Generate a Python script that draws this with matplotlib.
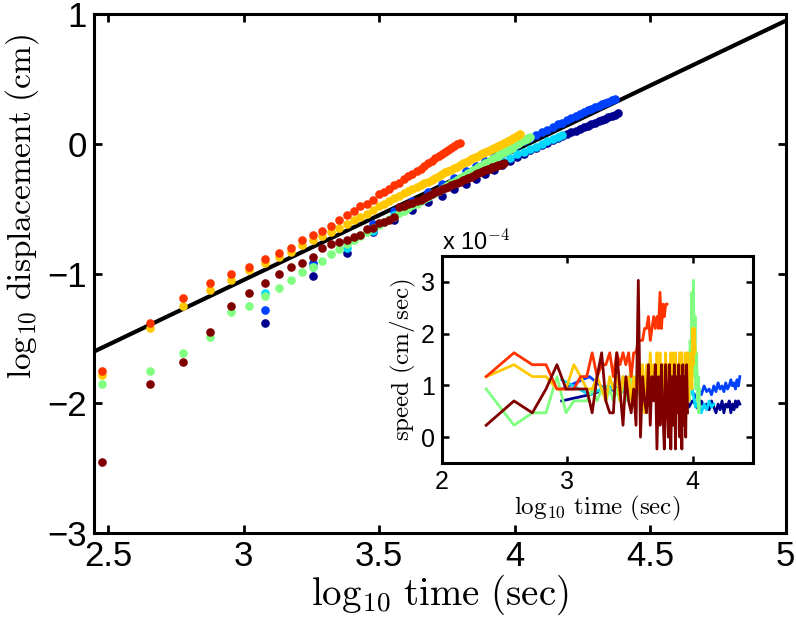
import numpy as np
import matplotlib
matplotlib.use("Agg")
import matplotlib.pyplot as plt

plt.rcParams['font.family'] = ['Liberation Sans', 'DejaVu Sans']
plt.rcParams['mathtext.fontset'] = 'cm'

# ---------------- data ----------------
# sampling intervals (s) and first sample index of the tracked particles
dt_fast = 150.0
dt_slow = 600.0
first_index = 2

colors = {
    'navy': '#00008F', 'blue': '#0040FF', 'cyan': '#00D8FF',
    'green': '#80FF80', 'yellow': '#FFC800', 'red': '#FF3300', 'darkred': '#800000',
}

# log10 displacement (cm), main panel
disp_red = [-1.75, -1.38, -1.19, -1.07, -1.00, -0.95, -0.89, -0.84, -0.80, -0.74,
            -0.70, -0.67, -0.63, -0.59, -0.55, -0.52, -0.48, -0.46, -0.43, -0.39,
            -0.37, -0.35, -0.32, -0.30, -0.27, -0.25, -0.23, -0.21, -0.19, -0.17,
            -0.15, -0.13, -0.11, -0.095, -0.08, -0.06, -0.045, -0.03, -0.015, 0.00, 0.01]
disp_yellow = [-1.78, -1.42, -1.25, -1.13, -1.05, -0.97, -0.92, -0.87, -0.83, -0.78,
               -0.74, -0.71, -0.68, -0.65, -0.62, -0.59, -0.565, -0.54, -0.51, -0.48,
               -0.46, -0.44, -0.42, -0.40, -0.38, -0.365, -0.35, -0.335, -0.32, -0.305,
               -0.29, -0.275, -0.26, -0.25, -0.235, -0.22, -0.21, -0.20, -0.185, -0.175,
               -0.16, -0.15, -0.14, -0.13, -0.12, -0.11, -0.10, -0.09, -0.08, -0.07,
               -0.065, -0.055, -0.045, -0.04, -0.03, -0.02, -0.015, -0.005, 0.0, 0.01,
               0.015, 0.025, 0.03, 0.04, 0.045, 0.055, 0.06, 0.07, 0.08]
disp_green = [-1.85, -1.75, -1.61, -1.49, -1.30, -1.25, -1.17, -1.11, -1.05, -0.99,
              -0.95, -0.90, -0.85, -0.81, -0.77, -0.74, -0.71, -0.68, -0.65, -0.625,
              -0.60, -0.58, -0.56, -0.535, -0.515, -0.495, -0.475, -0.46, -0.44, -0.425,
              -0.41, -0.39, -0.375, -0.36, -0.345, -0.33, -0.315, -0.30, -0.29, -0.275,
              -0.265, -0.25, -0.24, -0.225, -0.215, -0.205, -0.19, -0.18, -0.17, -0.16,
              -0.15, -0.14, -0.13, -0.12, -0.11, -0.10, -0.09, -0.08, -0.07, -0.065,
              -0.055, -0.045, -0.04, -0.03, -0.02, -0.01, 0.0, 0.01, 0.015, 0.02,
              0.03, 0.035, 0.04, 0.045, 0.05]
disp_darkred = [-2.45, -1.85, -1.68, -1.45, -1.25, -1.15, -1.07, -1.00, -0.95, -0.92,
                -0.87, -0.80, -0.77, -0.76, -0.74, -0.72, -0.70, -0.66, -0.65, -0.61,
                -0.60, -0.585, -0.56, -0.49, -0.48, -0.465, -0.455, -0.44, -0.43, -0.415,
                -0.40, -0.39, -0.37, -0.36, -0.35, -0.34, -0.33, -0.32, -0.31, -0.30,
                -0.29, -0.28, -0.27, -0.265, -0.255, -0.245, -0.235, -0.225, -0.22, -0.21,
                -0.20, -0.195, -0.19, -0.18, -0.175, -0.17, -0.165, -0.16, -0.155, -0.15]
disp_navy = [-1.38, -1.02, -0.84, -0.68, -0.59, -0.51, -0.45, -0.40, -0.35, -0.31,
             -0.27, -0.235, -0.20, -0.165, -0.13, -0.10, -0.075, -0.05, -0.03, -0.01,
             0.01, 0.03, 0.045, 0.06, 0.075, 0.09, 0.10, 0.115, 0.13, 0.14,
             0.15, 0.165, 0.175, 0.185, 0.195, 0.205, 0.215, 0.225, 0.235]
disp_blue = [-1.28, -0.92, -0.76, -0.62, -0.52, -0.44, -0.37, -0.31, -0.26, -0.21,
             -0.17, -0.13, -0.095, -0.06, -0.03, -0.005, 0.02, 0.045, 0.07, 0.09,
             0.11, 0.13, 0.15, 0.165, 0.185, 0.20, 0.215, 0.23, 0.245, 0.26,
             0.27, 0.285, 0.295, 0.305, 0.315, 0.325, 0.335, 0.345]
disp_cyan = [-1.15, -0.95, -0.80, -0.67, -0.55, -0.47, -0.41, -0.35, -0.30, -0.26,
             -0.22, -0.18, -0.15, -0.13, -0.105, -0.08, -0.06, -0.04, -0.02, 0.0,
             0.02, 0.035, 0.05, 0.07]

# reference power-law line (log-log)
fit_slope = 1.0
fit_intercept = -4.05
fit_range = [2.448, 5.0]

# speeds (x 1e-4 cm/sec), inset, at mid-interval times
speed_red = [1.17, 1.63, 1.40, 1.40, 0.93, 0.93, 0.93, 1.17, 1.17, 1.63,
             1.17, 1.40, 1.40, 1.63, 1.17, 1.63, 1.40, 1.63, 1.40, 1.63,
             1.17, 1.63, 1.63, 1.87, 1.87, 1.87, 2.10, 2.10, 2.33, 1.87,
             2.10, 2.33, 2.10, 2.33, 2.10, 2.80, 2.10, 2.57, 2.33, 2.57, 2.57]
speed_yellow = [1.17, 1.40, 1.17, 1.17, 0.93, 0.93, 1.40, 1.17, 0.93, 0.93,
                1.17, 0.93, 0.70, 1.17, 0.93, 1.17, 0.70, 1.17, 0.93, 1.17,
                0.70, 1.17, 0.93, 1.17, 0.70, 1.40, 0.47, 1.40, 0.70, 1.63,
                0.93, 1.40, 0.70, 1.63, 0.93, 1.63, 0.70, 1.40, 0.93, 1.63,
                0.70, 1.40, 1.17, 1.63, 0.70, 1.63, 0.93, 1.63, 0.70, 1.40,
                0.93, 1.63, 0.70, 1.63, 0.93, 1.40, 0.70, 1.63, 1.17, 1.63,
                0.70, 1.40, 1.17, 1.63, 0.93, 2.10, 1.40, 2.10, 1.63]
speed_green = [0.93, 0.23, 0.47, 0.47, 1.17, 0.47, 0.70, 0.70, 0.70, 0.93,
               0.70, 0.93, 0.70, 0.93, 0.70, 0.93, 0.70, 1.17, 0.70, 0.93,
               1.40, 0.70, 1.17, 0.93, 1.40, 0.70, 1.17, 0.93, 1.40, 0.70,
               1.17, 0.93, 1.40, 0.70, 1.17, 0.93, 1.40, 0.70, 1.17, 0.93,
               1.40, 0.70, 1.17, 0.93, 1.40, 0.70, 1.17, 0.93, 1.40, 0.70,
               1.17, 0.93, 1.40, 0.70, 1.17, 0.93, 1.40, 0.70, 1.40, 0.93,
               1.63, 0.70, 1.87, 0.93, 2.80, 1.17, 3.03, 1.40, 2.33, 0.93,
               1.63, 0.70, 1.17, 0.47, 0.93]
speed_darkred = [0.23, 0.70, 0.47, 0.93, 1.40, 0.93, 0.93, 0.93, 0.93, 0.47,
                 1.17, 1.63, 0.70, 0.47, 0.47, 1.63, 0.93, 0.23, 1.17, 0.70,
                 0.47, 0.93, 0.23, 3.03, 0.00, 1.17, 0.70, 0.47, 1.40, 0.23,
                 1.17, 0.70, 1.40, -0.23, 1.17, 0.23, 1.40, 0.47, -0.23, 1.40,
                 0.70, 0.00, 1.40, -0.23, 1.17, 0.23, 1.40, -0.23, 1.17, 0.47,
                 1.40, 0.00, 1.17, -0.23, 1.40, 0.23, 1.17, 0.00, 1.40, 0.47]
speed_navy = [0.70, 0.82, 0.93, 0.88, 0.93, 0.99, 0.82, 0.93, 0.76, 0.88,
              0.70, 0.82, 0.64, 0.76, 0.58, 0.70, 0.64, 0.53, 0.70, 0.58,
              0.64, 0.53, 0.70, 0.58, 0.47, 0.64, 0.53, 0.70, 0.47, 0.64,
              0.58, 0.70, 0.47, 0.64, 0.53, 0.70, 0.58, 0.70, 0.64]
speed_blue = [0.93, 1.17, 0.88, 0.99, 0.93, 0.82, 0.99, 0.88, 0.93, 0.82,
              0.99, 0.88, 0.93, 0.99, 0.82, 0.88, 0.76, 0.93, 0.82, 0.99,
              0.88, 0.93, 0.82, 0.99, 0.88, 1.05, 0.93, 0.99, 0.88, 1.05,
              0.93, 0.99, 1.11, 0.99, 1.05, 0.93, 1.11, 0.99, 1.17]
speed_cyan = [1.11, 0.82, 0.99, 0.88, 0.93, 0.82, 0.99, 0.76, 0.93, 0.82,
              0.88, 0.76, 0.93, 0.82, 0.76, 0.93, 0.58, 0.70, 0.47, 0.64,
              0.53, 0.70, 0.58, 0.64]

main_xticks = [2.5, 3, 3.5, 4, 4.5, 5]
main_yticks = [-3, -2, -1, 0, 1]
inset_xticks = [2, 3, 4]
inset_yticks = [0, 1, 2, 3]


def sample_times(n, dt):
    return dt * (first_index + np.arange(n))


def mid_times(n, dt):
    return dt * (first_index - 0.5 + np.arange(n))


# ---------------- figure ----------------
fig = plt.figure(figsize=(7.96, 6.21), dpi=100)
ax = fig.add_axes([0.118, 0.142, 0.869, 0.835])

order = [('navy', disp_navy, dt_slow), ('blue', disp_blue, dt_slow),
         ('cyan', disp_cyan, dt_slow), ('green', disp_green, dt_fast),
         ('yellow', disp_yellow, dt_fast), ('red', disp_red, dt_fast),
         ('darkred', disp_darkred, dt_fast)]

fx = np.array(fit_range)
ax.plot(fx, fit_slope * fx + fit_intercept, color='black', lw=3.0, zorder=1,
        solid_capstyle='butt')
for i, (name, vals, dt) in enumerate(order):
    t = sample_times(len(vals), dt)
    ax.plot(np.log10(t), vals, 'o', color=colors[name], ms=6.2, mec='none',
            zorder=2 + i)

ax.set_xlim(2.448, 5.0)
ax.set_ylim(-3, 1)
ax.set_xticks(main_xticks)
ax.set_xticklabels(['2.5', '3', '3.5', '4', '4.5', '5'])
ax.set_yticks(main_yticks)
ax.set_yticklabels(['\u22123', '\u22122', '\u22121', '0', '1'])
ax.tick_params(direction='in', length=6, width=2, labelsize=25, top=True,
               right=True, pad=5)
for s in ax.spines.values():
    s.set_linewidth(2.2)
ax.set_xlabel(r'$\log_{10}\,\mathrm{time\ (sec)}$', fontsize=28, labelpad=0)
ax.set_ylabel(r'$\log_{10}\,\mathrm{displacement\ (cm)}$', fontsize=24)
ax.yaxis.set_label_coords(-0.077, 0.63)

# ---------------- inset ----------------
ins = fig.add_axes([0.5553, 0.2544, 0.3907, 0.3333])
inset_order = [('navy', speed_navy, dt_slow), ('blue', speed_blue, dt_slow),
               ('cyan', speed_cyan, dt_slow), ('green', speed_green, dt_fast),
               ('yellow', speed_yellow, dt_fast), ('red', speed_red, dt_fast),
               ('darkred', speed_darkred, dt_fast)]
for i, (name, vals, dt) in enumerate(inset_order):
    t = mid_times(len(vals), dt)
    ins.plot(np.log10(t), vals, '-', color=colors[name], lw=2.0, zorder=2 + i)
ins.set_xlim(2.0, 4.48)
ins.set_ylim(-0.5, 3.5)
ins.set_xticks(inset_xticks)
ins.set_yticks(inset_yticks)
ins.tick_params(direction='in', length=5, width=1.8, labelsize=18, top=True,
                right=True, pad=5)
for s in ins.spines.values():
    s.set_linewidth(2.2)
ins.set_xlabel(r'$\log_{10}\,\mathrm{time\ (sec)}$', fontsize=18, labelpad=0)
ins.set_ylabel(r'$\mathrm{speed\ (cm/sec)}$', fontsize=18, labelpad=2)
fig.text(0.5553, 1 - 250 / 621, r'x 10$^{-4}$', fontsize=17,
         ha='left', va='baseline')

fig.savefig('out.png', dpi=100)
